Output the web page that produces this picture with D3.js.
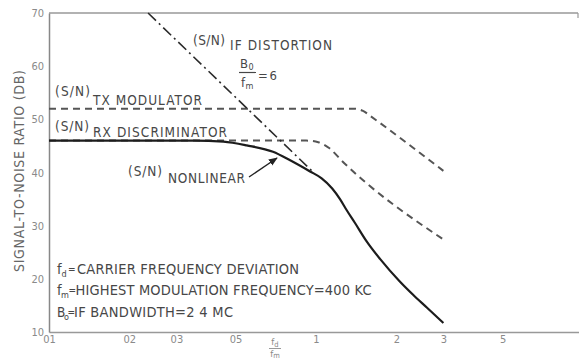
<!DOCTYPE html>
<html>
<head>
<meta charset="utf-8">
<script src="https://cdn.jsdelivr.net/npm/d3@7/dist/d3.min.js"></script>
<style>
  html, body { margin: 0; padding: 0; background: #fff; }
  svg { display: block; }
  text { font-family: "DejaVu Sans Condensed", "DejaVu Sans", sans-serif; font-stretch: condensed; }
</style>
</head>
<body>
<script>
// ---- data: ratio fd/fm versus S/N in dB ----
const xTicks = [0.1, 0.2, 0.3, 0.5, 1, 2, 3, 5];
const xTickLabels = ["01", "02", "03", "05", "1", "2", "3", "5"];
const yTicks = [10, 20, 30, 40, 50, 60, 70];

// (S/N) TX modulator
const txRatio = [0.1, 1.38, 1.5, 1.6, 3];
const txDb    = [52, 52, 51.6, 50.6, 40.3];

// (S/N) RX discriminator
const rxRatio = [0.1, 0.92, 1.02, 1.12, 1.25, 3];
const rxDb    = [46, 46, 45.7, 44.6, 42.2, 27.4];

// (S/N) IF distortion, B0/fm = 6
const ifRatio = [0.235, 0.97];
const ifDb    = [70, 40.2];

// (S/N) nonlinear
const nlRatio = [0.1, 0.35, 0.45, 0.55, 0.69, 0.8, 0.95, 1.05, 1.15, 1.23, 1.3, 1.4, 1.55, 1.74, 2.06, 2.31, 2.6, 3];
const nlDb    = [46, 46, 45.8, 45.1, 43.9, 42.3, 40.2, 38.9, 37.0, 35.0, 33.0, 30.5, 27.0, 23.7, 19.5, 17.0, 14.6, 11.7];

const W = 579, H = 360;
const svg = d3.select("body").append("svg").attr("width", W).attr("height", H);

const x = d3.scaleLog().domain([0.1, 10]).range([49, 583]);
const y = d3.scaleLinear().domain([10, 70]).range([332, 13]);

const zip = (a, b) => a.map((v, i) => [v, b[i]]);

svg.append("clipPath").attr("id", "plot")
  .append("rect").attr("x", 49).attr("y", 12).attr("width", W - 49).attr("height", 321);

// ---- frame and axes ----
svg.append("line").attr("x1", 49).attr("x2", 578).attr("y1", y(70)).attr("y2", y(70))
  .attr("stroke", "#999").attr("stroke-width", 1.5);
svg.append("line").attr("x1", 578).attr("x2", 578).attr("y1", y(70)).attr("y2", y(70) + 5)
  .attr("stroke", "#999").attr("stroke-width", 1.2);

const gx = svg.append("g").attr("transform", `translate(0,${y(10)})`)
  .call(d3.axisBottom(x).tickValues(xTicks).tickFormat((d, i) => xTickLabels[i])
    .tickSize(0).tickSizeOuter(0).tickPadding(3));
gx.select(".domain").attr("stroke", "#999").attr("stroke-width", 1.5);
gx.selectAll("text").attr("fill", "#8a8a8a").attr("font-size", 11)
  .style("font-family", '"DejaVu Sans Condensed", "DejaVu Sans", sans-serif');

const gy = svg.append("g").attr("transform", `translate(${x(0.1)},0)`)
  .call(d3.axisLeft(y).tickValues(yTicks).tickFormat(d3.format("d"))
    .tickSize(0).tickSizeOuter(0).tickPadding(5));
gy.select(".domain").attr("stroke", "#888").attr("stroke-width", 1.5);
gy.selectAll("text").attr("fill", "#8a8a8a").attr("font-size", 11)
  .style("font-family", '"DejaVu Sans Condensed", "DejaVu Sans", sans-serif');

svg.append("text")
  .attr("transform", "translate(24,171) rotate(-90)")
  .attr("text-anchor", "middle")
  .attr("font-size", 14).attr("fill", "#666")
  .attr("textLength", 202).attr("lengthAdjust", "spacing")
  .text("SIGNAL-TO-NOISE RATIO (DB)");

// fd / fm under the axis
const fx = 275;
const num = svg.append("text").attr("x", fx).attr("y", 345).attr("text-anchor", "middle")
  .attr("font-size", 9.5).attr("fill", "#888");
num.append("tspan").text("f");
num.append("tspan").attr("font-size", 7.5).attr("dy", 1.5).text("d");
svg.append("line").attr("x1", fx - 6).attr("x2", fx + 6).attr("y1", 348.5).attr("y2", 348.5)
  .attr("stroke", "#999").attr("stroke-width", 1);
const den = svg.append("text").attr("x", fx).attr("y", 356.5).attr("text-anchor", "middle")
  .attr("font-size", 9.5).attr("fill", "#888");
den.append("tspan").text("f");
den.append("tspan").attr("font-size", 7.5).attr("dy", 1.5).text("m");

// ---- curves ----
const line = d3.line().x(d => x(d[0])).y(d => y(d[1]));
const plot = svg.append("g").attr("clip-path", "url(#plot)");

plot.append("path").datum(zip(txRatio, txDb))
  .attr("d", line.curve(d3.curveMonotoneX))
  .attr("fill", "none").attr("stroke", "#555").attr("stroke-width", 2)
  .attr("stroke-dasharray", "7,5");

plot.append("path").datum(zip(rxRatio, rxDb))
  .attr("d", line.curve(d3.curveMonotoneX))
  .attr("fill", "none").attr("stroke", "#555").attr("stroke-width", 2)
  .attr("stroke-dasharray", "7,5");

plot.append("path").datum(zip(ifRatio, ifDb))
  .attr("d", line.curve(d3.curveLinear))
  .attr("fill", "none").attr("stroke", "#2a2a2a").attr("stroke-width", 1.6)
  .attr("stroke-dasharray", "11,4,2,4");

plot.append("path").datum(zip(nlRatio, nlDb))
  .attr("d", line.curve(d3.curveMonotoneX))
  .attr("fill", "none").attr("stroke", "#1c1c1c").attr("stroke-width", 2.2);

// ---- labels ----
const ink = "#474747";
function label(xp, yp, str, size, len) {
  const t = svg.append("text").attr("x", xp).attr("y", yp)
    .attr("font-size", size).attr("fill", ink).text(str);
  if (len) t.attr("textLength", len).attr("lengthAdjust", "spacing");
  return t;
}

label(193, 45, "(S/N)", 13.5, 32);
label(230, 50, "IF DISTORTION", 13.5, 102);
label(240, 68, "B", 13);
label(248.5, 70, "0", 9);
svg.append("line").attr("x1", 239).attr("x2", 256).attr("y1", 72.5).attr("y2", 72.5)
  .attr("stroke", ink).attr("stroke-width", 1.2);
label(241, 87, "f", 13);
label(245.5, 89, "m", 9);
label(258, 80, "=6", 13, 19);

label(55, 96, "(S/N)", 13.5, 35);
label(93, 105, "TX MODULATOR", 13.5, 109);
label(55, 131, "(S/N)", 13.5, 34);
label(93, 137, "RX DISCRIMINATOR", 13.5, 134);
label(128, 176, "(S/N)", 13.5, 34);
label(168, 183, "NONLINEAR", 13.5, 77);

// arrow pointing at the nonlinear curve
svg.append("defs").append("marker").attr("id", "head")
  .attr("viewBox", "0 0 10 10").attr("refX", 9).attr("refY", 5)
  .attr("markerWidth", 9).attr("markerHeight", 9).attr("markerUnits", "userSpaceOnUse")
  .attr("orient", "auto")
  .append("path").attr("d", "M0,1 L10,5 L0,9 Z").attr("fill", "#222");
svg.append("line").attr("x1", 249).attr("y1", 177).attr("x2", 277).attr("y2", 158)
  .attr("stroke", "#222").attr("stroke-width", 1.4).attr("marker-end", "url(#head)");

// ---- definitions block: symbol, subscript, "=", meaning ----
function defLine(yp, main, mainSize, sub, subX, eqX, body, bodyX, len) {
  label(57, yp, main, mainSize);
  label(subX, yp + 2.5, sub, 9);
  label(eqX, yp - 1, "=", 10);
  label(bodyX, yp, body, 14.5, len);
}
defLine(274, "f", 14.5, "d", 61.5, 68, "CARRIER FREQUENCY DEVIATION", 77, 222);
defLine(295, "f", 14.5, "m", 61, 68.5, "HIGHEST MODULATION FREQUENCY=400 KC", 75.5, 296);
defLine(317, "B", 13.5, "o", 64, 67.5, "IF BANDWIDTH=2 4 MC", 74, 159);
</script>
</body>
</html>
